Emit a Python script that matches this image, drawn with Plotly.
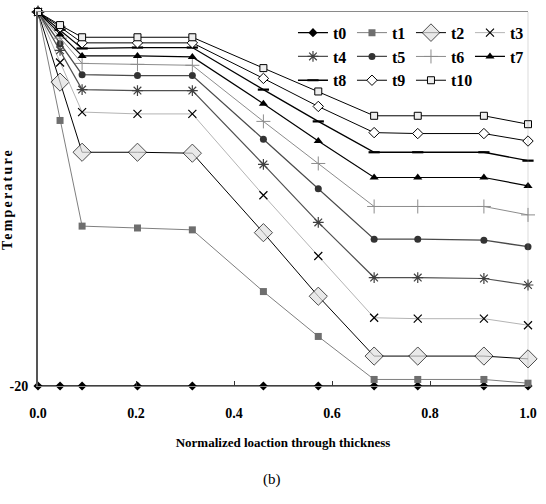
import plotly.graph_objects as go

# Normalized location through thickness (x positions of the data points)
location = [0.0, 0.045, 0.09, 0.203, 0.315, 0.46, 0.572, 0.686, 0.775, 0.91, 1.0]

# Temperature profiles for each time step
t0 = [-20, -20, -20, -20, -20, -20, -20, -20, -20, -20, -20]
t1 = [20, 8.4, -2.9, -3.1, -3.3, -9.9, -14.7, -19.3, -19.3, -19.3, -19.7]
t2 = [20, 12.5, 5.0, 5.0, 4.9, -3.6, -10.4, -16.8, -16.8, -16.8, -17.1]
t3 = [20, 14.6, 9.3, 9.1, 9.1, 0.4, -6.1, -12.7, -12.8, -12.8, -13.5]
t4 = [20, 15.9, 11.7, 11.6, 11.6, 3.7, -2.5, -8.4, -8.4, -8.5, -9.2]
t5 = [20, 16.6, 13.3, 13.2, 13.2, 6.4, 1.1, -4.3, -4.3, -4.4, -5.1]
t6 = [20, 17.2, 14.5, 14.4, 14.3, 8.3, 3.8, -0.8, -0.8, -0.8, -1.7]
t7 = [20, 17.6, 15.3, 15.3, 15.2, 10.2, 6.2, 2.3, 2.3, 2.3, 1.4]
t8 = [20, 18.1, 16.1, 16.2, 16.2, 11.7, 8.3, 5.0, 5.0, 5.0, 4.1]
t9 = [20, 18.4, 16.7, 16.7, 16.7, 12.9, 9.9, 7.1, 7.0, 7.0, 6.2]
t10 = [20, 18.6, 17.3, 17.3, 17.3, 14.0, 11.5, 8.9, 8.9, 8.9, 8.0]

series_names = ["t0", "t1", "t2", "t3", "t4", "t5", "t6", "t7", "t8", "t9", "t10"]
series_values = [t0, t1, t2, t3, t4, t5, t6, t7, t8, t9, t10]

x_ticks = [0.0, 0.2, 0.4, 0.6, 0.8, 1.0]
x_tick_labels = ["0.0", "0.2", "0.4", "0.6", "0.8", "1.0"]
y_ticks = [-20]
y_tick_labels = ["-20"]

styles = {
    "t0": dict(line=dict(color="black", width=1.3),
               marker=dict(symbol="diamond", size=7, color="black")),
    "t1": dict(line=dict(color="#7f7f7f", width=1),
               marker=dict(symbol="square", size=7, color="#6e6e6e")),
    "t2": dict(line=dict(color="black", width=1),
               marker=dict(symbol="diamond", size=[9] + [14] * 10, color="#e0e0e0",
                           line=dict(color="black", width=1))),
    "t3": dict(line=dict(color="#b4b4b4", width=1),
               marker=dict(symbol="x-thin", size=8, color="black",
                           line=dict(color="black", width=1.2))),
    "t4": dict(line=dict(color="#505050", width=1.2),
               marker=dict(symbol="asterisk", size=9, color="#404040",
                           line=dict(color="#404040", width=1.2))),
    "t5": dict(line=dict(color="#4a4a4a", width=1.3),
               marker=dict(symbol="circle", size=7, color="#333333")),
    "t6": dict(line=dict(color="#8c8c8c", width=1),
               marker=dict(symbol="cross-thin", size=10, color="#8c8c8c",
                           line=dict(color="#8c8c8c", width=1))),
    "t7": dict(line=dict(color="black", width=1.2),
               marker=dict(symbol="triangle-up", size=8, color="black")),
    "t8": dict(line=dict(color="black", width=1.3),
               marker=dict(symbol="line-ew", size=8, color="black",
                           line=dict(color="black", width=2.2))),
    "t9": dict(line=dict(color="black", width=1),
               marker=dict(symbol="diamond", size=8, color="white",
                           line=dict(color="black", width=1))),
    "t10": dict(line=dict(color="black", width=1),
                marker=dict(symbol="square", size=7, color="#eeeeee",
                            line=dict(color="black", width=1))),
}

fig = go.Figure()
for name, vals in zip(series_names, series_values):
    st = styles[name]
    fig.add_trace(go.Scatter(
        x=location, y=vals, name=name, mode="lines+markers",
        line=st["line"], marker=st["marker"], cliponaxis=False,
    ))

serif = "Liberation Serif, Times New Roman, serif"

fig.update_layout(
    template="simple_white",
    width=546, height=504,
    margin=dict(l=38, r=18, t=12, b=118, autoexpand=False),
    plot_bgcolor="white", paper_bgcolor="white",
    font=dict(family=serif, color="black"),
    showlegend=True,
    legend=dict(
        orientation="h", x=1.002, xanchor="right", y=0.99, yanchor="top",
        entrywidth=14, entrywidthmode="pixels", itemsizing="trace",
        bgcolor="rgba(0,0,0,0)", borderwidth=0,
        font=dict(family=serif, size=16, color="black", weight="bold"),
        traceorder="normal",
    ),
    xaxis=dict(
        range=[0, 1], tickvals=x_ticks, ticktext=x_tick_labels,
        ticks="inside", ticklen=5, tickcolor="#333", tickwidth=1,
        showline=True, linecolor="#8a8a8a", linewidth=1, mirror=True,
        showgrid=False, zeroline=False, ticklabelstandoff=14, automargin=False,
        tickfont=dict(family=serif, size=14, weight="bold"),
        title=dict(text="Normalized loaction through thickness", standoff=18,
                   font=dict(family=serif, size=13, weight="bold")),
    ),
    yaxis=dict(
        range=[-20, 20], tickvals=y_ticks, ticktext=y_tick_labels,
        ticks="", showline=True, linecolor="#555555", linewidth=2,
        showgrid=False, zeroline=False, automargin=False, ticklabelstandoff=5,
        tickfont=dict(family=serif, size=14, weight="bold"),
        title=dict(text='<span style="letter-spacing:2.2px">Temperature</span>', standoff=0,
                   font=dict(family=serif, size=14, weight="bold")),
    ),
    shapes=[dict(type="line", xref="paper", yref="paper", x0=1, x1=1, y0=0, y1=1,
                 line=dict(color="#8a8a8a", width=1))],
    annotations=[dict(text="(b)", xref="paper", yref="paper", x=0.478, y=-0.25,
                      xanchor="center", yanchor="middle", showarrow=False,
                      font=dict(family=serif, size=15, color="black"))],
)

fig.write_html("out.html", config={"displayModeBar": False},
               post_script="document.body.style.margin='0px';")
